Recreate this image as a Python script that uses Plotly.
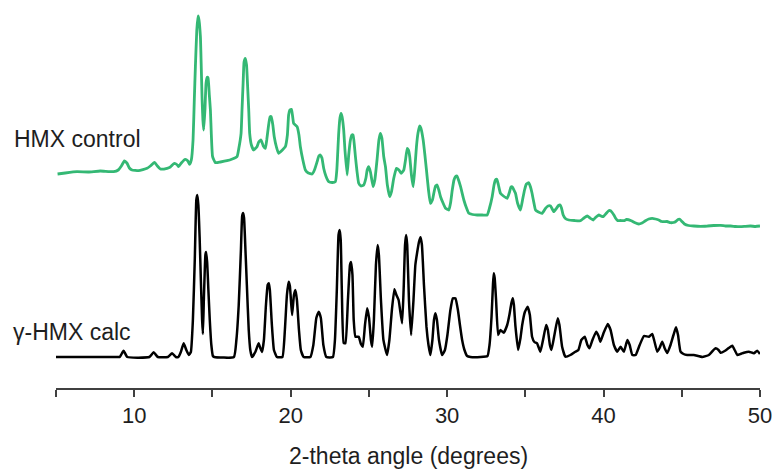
import plotly.graph_objects as go

# γ-HMX calculated powder pattern (2θ in degrees, intensity in arbitrary units)
calc_2theta = [
    5.0, 8.98, 9.08, 9.32, 9.56, 10.97, 11.24, 11.51, 12.15, 12.42, 12.66,
    12.82, 12.98, 13.16, 13.33, 13.49, 13.62, 13.75, 13.87, 13.97, 14.03, 14.10,
    14.18, 14.26, 14.34, 14.39, 14.45, 14.55, 14.59, 14.66, 14.74, 14.83, 14.93,
    15.03, 15.12, 16.37, 16.53, 16.68, 16.82, 16.90, 16.96, 17.02, 17.11, 17.20,
    17.32, 17.42, 17.53, 17.74, 17.95, 18.06, 18.17, 18.29, 18.42, 18.53, 18.60,
    18.67, 18.80, 18.93, 19.12, 19.47, 19.63, 19.76, 19.87, 19.95, 20.09, 20.21,
    20.30, 20.40, 20.53, 20.65, 20.83, 21.26, 21.45, 21.64, 21.79, 21.93, 22.09,
    22.28, 22.70, 22.83, 22.95, 23.06, 23.13, 23.20, 23.27, 23.39, 23.50, 23.66,
    23.79, 23.86, 23.95, 24.03, 24.14, 24.35, 24.49, 24.61, 24.75, 24.89, 25.01,
    25.13, 25.21, 25.32, 25.45, 25.56, 25.64, 25.77, 25.93, 26.16, 26.31, 26.47,
    26.63, 26.76, 26.90, 27.12, 27.22, 27.31, 27.38, 27.45, 27.56, 27.70, 27.85,
    27.97, 28.08, 28.20, 28.30, 28.39, 28.52, 28.68, 28.81, 28.93, 29.06, 29.16,
    29.25, 29.35, 29.48, 29.68, 29.86, 30.02, 30.21, 30.37, 30.53, 30.69, 30.82,
    30.96, 31.11, 31.28, 31.49, 32.13, 32.58, 32.71, 32.84, 32.93, 32.98, 33.04,
    33.13, 33.26, 33.41, 33.62, 33.84, 33.98, 34.11, 34.20, 34.27, 34.37, 34.54,
    34.69, 34.80, 34.97, 35.15, 35.29, 35.43, 35.58, 35.75, 35.96, 36.13, 36.33,
    36.44, 36.57, 36.67, 36.86, 37.07, 37.18, 37.35, 37.56, 37.88, 38.20, 38.39,
    38.58, 38.80, 38.97, 39.10, 39.29, 39.53, 39.68, 39.80, 40.00, 40.27, 40.45,
    40.66, 40.88, 41.09, 41.30, 41.52, 41.67, 41.84, 42.05, 42.31, 42.58, 42.90,
    43.11, 43.23, 43.43, 43.58, 43.75, 43.90, 44.07, 44.28, 44.47, 44.63, 44.76,
    44.92, 45.11, 45.35, 45.77, 46.31, 46.73, 46.97, 47.16, 47.35, 47.48, 47.74,
    48.00, 48.23, 48.38, 48.55, 48.76, 48.97, 49.29, 49.61, 49.82, 50.0,
]
calc_intensity = [
    0, 0, 0, 6.3, 0, 0, 4.7, 0, 0, 3.7, 0,
    0, 5, 13.7, 7, 2, 5, 37, 97, 157, 162, 152,
    120, 77, 37, 23, 57, 102, 105, 95, 67, 37, 12,
    1, 0, 0, 17, 52, 107, 141, 144, 139, 107, 72,
    27, 7, 0, 5, 13.7, 9, 5, 17, 52, 72, 73.7,
    67, 32, 7, 0, 0, 27, 62, 75.3, 71, 42, 62,
    67, 57, 27, 7, 0, 0, 12, 39, 45.3, 39, 12,
    0, 0, 17, 67, 122, 127, 117, 67, 14, 13.7, 57,
    92, 95, 82, 37, 20.3, 20.3, 13, 10.3, 32, 48.7, 39,
    17, 10.3, 37, 92, 112, 102, 57, 17, 2, 17, 47,
    67.7, 62, 57, 33.7, 67, 112, 122, 112, 57, 22, 57,
    92, 104, 115, 119.7, 112, 72, 30.3, 12, 2, 17, 37,
    43.7, 37, 17, 2, 7, 22, 47, 58.7, 58.7, 47, 32,
    17, 7, 1, 0, 0, 1, 12, 40.3, 72, 83.7, 79,
    57, 22, 27, 24.3, 32, 42, 54, 58.7, 52, 30.3, 7,
    19, 32, 45, 50.3, 42, 20.3, 15, 13.7, 5.3, 17, 32,
    27, 12, 7, 22, 38.7, 32, 10.3, 0.3, 2, 5.3, 7,
    17, 20.3, 12, 8.7, 17, 25.3, 21, 15.3, 24, 33, 27,
    12, 5.3, 10.3, 5.3, 17, 12, 2, 2, 12, 21, 20.3,
    23, 17, 5.3, 9, 15.3, 9, 4, 12, 22, 29.7, 22,
    5.3, 3, 2, 2, 0, 2, 6, 8.7, 7, 4.3, 6,
    9, 11.3, 7, 2, 3, 4.3, 5.3, 3.7, 6.3, 3,
]

# HMX control measured pattern (2θ in degrees, intensity in arbitrary units)
ctrl_2theta = [
    5.10, 5.59, 6.34, 7.07, 7.83, 8.68, 8.98, 9.18, 9.37, 9.53, 9.69,
    9.86, 10.28, 10.82, 11.03, 11.29, 11.48, 11.67, 12.10, 12.31, 12.56, 12.76,
    12.84, 13.01, 13.26, 13.43, 13.54, 13.65, 13.76, 13.84, 13.91, 14.00, 14.08,
    14.14, 14.23, 14.29, 14.34, 14.39, 14.44, 14.52, 14.59, 14.66, 14.72, 14.80,
    14.87, 14.93, 15.01, 15.19, 15.51, 15.93, 16.27, 16.57, 16.69, 16.83, 16.89,
    16.96, 17.02, 17.10, 17.18, 17.25, 17.32, 17.38, 17.49, 17.63, 17.85, 17.96,
    18.11, 18.25, 18.38, 18.47, 18.59, 18.68, 18.76, 18.86, 18.95, 19.09, 19.23,
    19.47, 19.66, 19.79, 19.87, 19.95, 20.05, 20.13, 20.19, 20.41, 20.53, 20.62,
    20.78, 20.94, 21.13, 21.37, 21.52, 21.69, 21.80, 21.90, 22.00, 22.11, 22.25,
    22.43, 22.67, 22.86, 22.95, 23.07, 23.15, 23.22, 23.29, 23.39, 23.47, 23.61,
    23.71, 23.82, 23.91, 23.99, 24.07, 24.14, 24.23, 24.35, 24.49, 24.67, 24.81,
    24.89, 24.99, 25.10, 25.27, 25.38, 25.52, 25.64, 25.73, 25.83, 25.95, 26.06,
    26.18, 26.33, 26.44, 26.59, 26.76, 26.92, 27.06, 27.23, 27.34, 27.45, 27.53,
    27.61, 27.72, 27.83, 27.93, 28.04, 28.14, 28.25, 28.32, 28.47, 28.58, 28.68,
    28.81, 28.93, 29.06, 29.15, 29.26, 29.36, 29.47, 29.58, 29.74, 29.90, 30.11,
    30.22, 30.33, 30.44, 30.54, 30.63, 30.73, 30.86, 31.07, 31.24, 31.39, 31.62,
    31.92, 32.26, 32.56, 32.71, 32.88, 33.00, 33.09, 33.18, 33.28, 33.41, 33.60,
    33.84, 33.99, 34.08, 34.16, 34.24, 34.37, 34.50, 34.69, 34.82, 34.95, 35.07,
    35.22, 35.33, 35.43, 35.55, 35.65, 35.84, 36.07, 36.29, 36.45, 36.61, 36.82,
    36.99, 37.12, 37.23, 37.31, 37.42, 37.56, 37.78, 38.14, 38.53, 38.75, 38.96,
    39.13, 39.34, 39.52, 39.70, 39.84, 39.98, 40.19, 40.35, 40.45, 40.55, 40.66,
    40.76, 40.91, 41.08, 41.30, 41.47, 41.77, 41.98, 42.25, 42.46, 42.68, 42.89,
    43.11, 43.32, 43.53, 43.71, 43.85, 44.06, 44.28, 44.47, 44.60, 44.76, 44.87,
    44.98, 45.17, 45.43, 45.77, 46.20, 46.64, 47.05, 47.48, 47.80, 48.12, 48.43,
    48.75, 49.07, 49.39, 49.71, 50.0,
]
ctrl_intensity = [
    66, 67, 68.3, 68, 69, 68.3, 70, 74, 79, 77, 72,
    70, 69.3, 71.7, 74, 77.7, 74, 71, 71.7, 73, 76.7, 75,
    73.3, 77, 80.7, 79, 75.7, 80, 100, 140, 173.3, 210, 224,
    220, 203.3, 170, 140, 120, 110, 130, 156.7, 162.7, 162, 145,
    130, 105, 83.3, 77.3, 78, 79.3, 81, 83.3, 92, 106.7, 130,
    156.7, 178, 181.7, 175, 153.3, 130, 106.7, 95, 90, 93.3, 98,
    100, 94, 91.7, 100, 115, 123, 123.3, 115, 103.3, 93, 86.7,
    90, 93.3, 105, 125, 130, 130.7, 123, 116.7, 113.3, 105, 93.3,
    80, 70, 67, 66, 70, 78.3, 84, 85, 82, 71.7, 64,
    58.3, 57.5, 58.3, 70, 106.7, 122, 126.7, 123, 110, 90, 65,
    85, 100, 105, 105, 95, 83.3, 70, 56.7, 54, 55, 62,
    70, 73.3, 68, 53.3, 60, 80, 100, 106.7, 102, 83.3, 73.3,
    55, 43.3, 48, 61.7, 71.7, 70, 66.7, 70, 80, 91.7, 90,
    83.3, 65, 53.3, 70, 93.3, 107, 114, 112, 100, 85, 70,
    50, 36.7, 40, 46.7, 54, 55, 50, 43.3, 37, 31.7, 30,
    37, 50, 60, 63.5, 64, 60, 53.3, 40, 32, 26.7, 25.5,
    25, 25, 25, 32, 43.3, 55, 60, 60.7, 55, 46.7, 44,
    41.7, 48, 53, 53.3, 51, 46.7, 37, 30, 40, 50, 56,
    57.3, 53, 46.7, 37, 30, 28, 26.7, 31.7, 34, 34, 28.3,
    31.7, 34.5, 35, 32, 25, 21.5, 20, 19.5, 19.3, 22, 24,
    22, 20, 23, 25, 24, 23.3, 27, 29.5, 29.3, 27.5, 25,
    22, 19.3, 19.5, 19.3, 20.5, 19.3, 17.5, 16, 17, 19.3, 21,
    21.7, 21, 20, 18.5, 18.3, 18.5, 17.3, 17.5, 18.3, 20.5, 20.7,
    19, 16, 14.5, 14, 13.7, 14, 14.5, 14.7, 14, 14, 13.5,
    13.3, 13.7, 14, 13.5, 14,
]

# Vertical offset used to stack the measured pattern above the calculated one
CTRL_OFFSET = 117

x_tickvals = [5, 10, 15, 20, 25, 30, 35, 40, 45, 50]
x_ticktext = ["", "10", "", "20", "", "30", "", "40", "", "50"]

FONT = "Liberation Sans, Arial, sans-serif"
TEXT_COLOR = "#1e1e1e"

fig = go.Figure()

fig.add_trace(go.Scatter(
    x=calc_2theta, y=calc_intensity, mode="lines",
    line=dict(color="#000000", width=2.5, shape="spline", smoothing=0.4),
    name="γ-HMX calc", showlegend=False,
))
fig.add_trace(go.Scatter(
    x=ctrl_2theta, y=[v + CTRL_OFFSET for v in ctrl_intensity], mode="lines",
    line=dict(color="#34b874", width=2.8, shape="spline", smoothing=0.4),
    name="HMX control", showlegend=False,
))

fig.add_annotation(
    text="HMX control", xref="paper", yref="y",
    x=-0.0625, y=218, xanchor="left", yanchor="middle", showarrow=False,
    font=dict(family=FONT, size=23, color=TEXT_COLOR),
)
fig.add_annotation(
    text="γ-HMX calc", xref="paper", yref="y",
    x=-0.064, y=25, xanchor="left", yanchor="middle", showarrow=False,
    font=dict(family=FONT, size=23, color=TEXT_COLOR),
)
fig.add_annotation(
    text="2-theta angle (degrees)", xref="paper", yref="paper",
    x=0.5, y=-0.178, xanchor="center", yanchor="middle", showarrow=False,
    font=dict(family=FONT, size=23, color=TEXT_COLOR),
)

fig.update_layout(
    width=778, height=473,
    margin=dict(l=56, r=18, t=5, b=85),
    paper_bgcolor="white", plot_bgcolor="white",
    xaxis=dict(
        range=[5, 50], tickmode="array", tickvals=x_tickvals, ticktext=x_ticktext,
        showline=True, linecolor="#404040", linewidth=1.5,
        ticks="outside", ticklen=7, tickwidth=1.5, tickcolor="#404040",
        showgrid=False, zeroline=False,
        tickfont=dict(family=FONT, size=22, color=TEXT_COLOR),
    ),
    yaxis=dict(range=[-31, 352], visible=False, showgrid=False, zeroline=False),
)

fig.write_html("out.html")
